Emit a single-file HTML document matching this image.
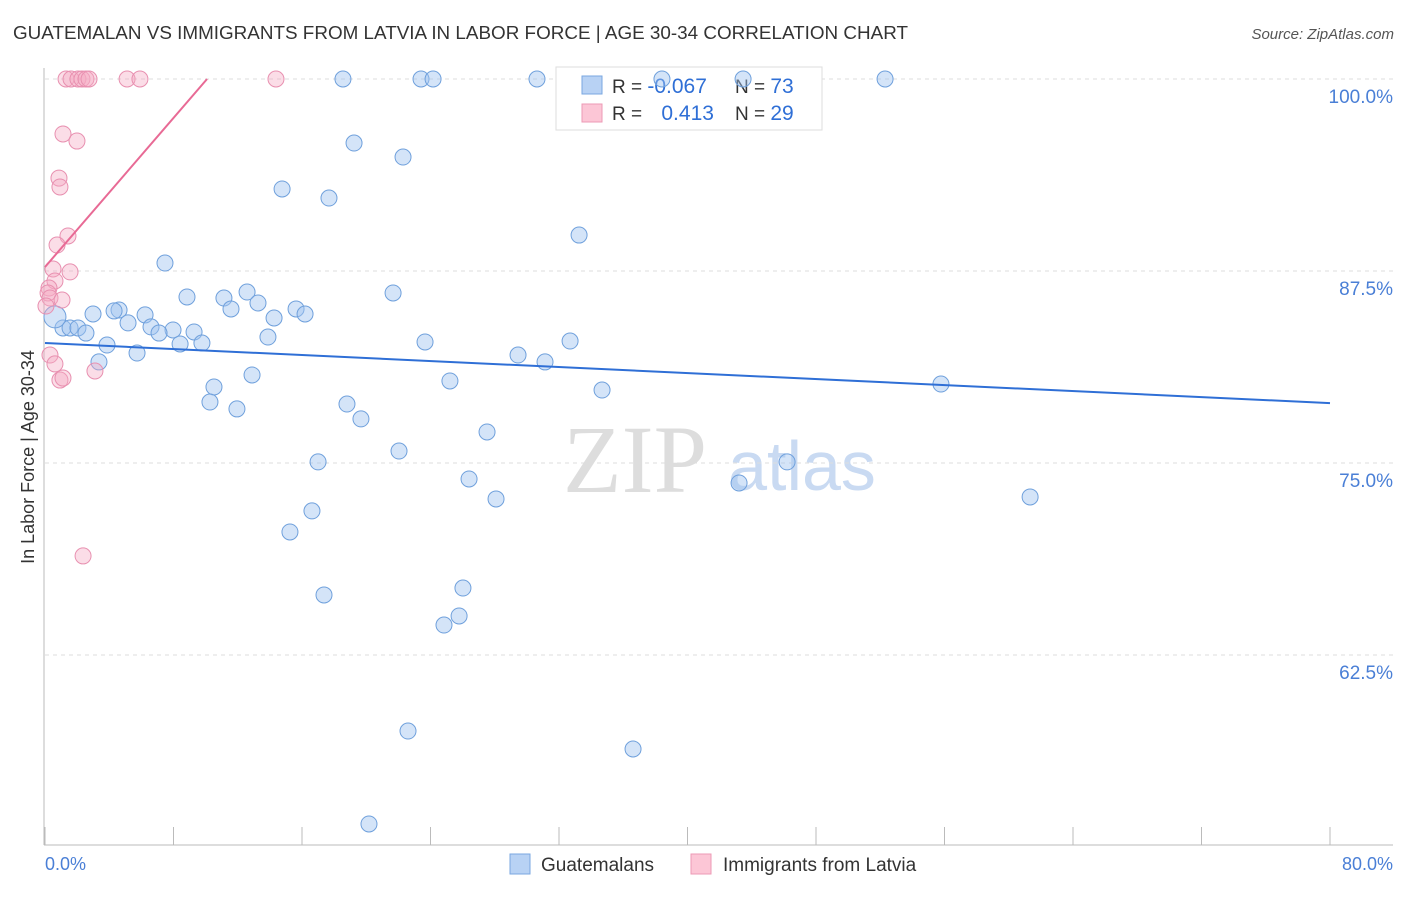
<!DOCTYPE html>
<html><head><meta charset="utf-8"><style>
body{margin:0;background:#fff;font-family:"Liberation Sans",sans-serif}
</style></head><body>
<svg id="c" width="1406" height="892" xmlns="http://www.w3.org/2000/svg">
<text x="13" y="39" font-size="18" fill="#333" textLength="895" lengthAdjust="spacingAndGlyphs">GUATEMALAN VS IMMIGRANTS FROM LATVIA IN LABOR FORCE | AGE 30-34 CORRELATION CHART</text>
<text x="1394" y="39" font-size="15" fill="#555" text-anchor="end" font-style="italic">Source: ZipAtlas.com</text>
<text x="635" y="492" font-size="96" fill="#ddd" font-family="Liberation Serif,serif" text-anchor="middle">ZIP</text>
<text x="802" y="490" font-size="70" fill="#c9daf2" text-anchor="middle">atlas</text>
<g id="grid"></g><g id="axes"></g>
<g>
<rect x="556" y="67" width="266" height="63" fill="#fff" stroke="#ddd"/>
<rect x="582" y="76" width="20" height="18" fill="#b8d2f4" stroke="#7aa7e0"/>
<rect x="582" y="104" width="20" height="18" fill="#fcc6d6" stroke="#ec9ab5"/>
<text x="612" y="93" font-size="19" fill="#333">R = <tspan fill="#2f6fd6" font-size="21">-0.067</tspan></text>
<text x="735" y="93" font-size="19" fill="#333">N = <tspan fill="#2f6fd6" font-size="21">73</tspan></text>
<text x="612" y="120" font-size="19" fill="#333">R = <tspan fill="#2f6fd6" dx="14" font-size="21">0.413</tspan></text>
<text x="735" y="120" font-size="19" fill="#333">N = <tspan fill="#2f6fd6" font-size="21">29</tspan></text>
</g>
<g id="pts"></g><g id="trend"></g>
<text transform="translate(34,457) rotate(-90)" font-size="18" fill="#333" text-anchor="middle">In Labor Force | Age 30-34</text>
<text x="45" y="870" font-size="18" fill="#4a7fd6">0.0%</text>
<text x="1393" y="870" font-size="18" fill="#4a7fd6" text-anchor="end">80.0%</text>
<g>
<rect x="510" y="854" width="20" height="20" fill="#b8d2f4" stroke="#7aa7e0"/>
<text x="541" y="871" font-size="19" fill="#333">Guatemalans</text>
<rect x="691" y="854" width="20" height="20" fill="#fcc6d6" stroke="#ec9ab5"/>
<text x="723" y="871" font-size="19" fill="#333">Immigrants from Latvia</text>
</g>
</svg>
<script>
const yTicks=[100,87.5,75,62.5];
const yTickLabels=["100.0%","87.5%","75.0%","62.5%"];
const xTicks=[0,8,16,24,32,40,48,56,64,72,80];
const blueX=[18.55,23.41,24.16,30.63,38.41,43.46,52.3,19.24,22.29,14.76,17.68,33.25,7.47,21.67,8.84,11.14,12.58,13.26,11.58,15.63,16.19,14.26,4.61,4.30,6.23,2.99,5.17,6.60,7.97,7.10,9.28,1.12,1.56,2.05,2.55,0.62,8.41,9.77,13.88,23.66,3.86,5.73,3.36,32.69,29.45,31.13,12.89,25.21,10.52,34.68,55.78,10.27,11.95,18.80,19.67,27.52,22.04,17.0,46.2,26.4,43.21,28.08,61.33,16.62,15.25,26.02,17.37,25.78,24.84,22.60,36.61,20.17];
const blueY=[100,100,100,100,100,100,100,95.83,94.92,92.84,92.25,89.84,88.02,86.07,85.81,85.74,86.13,85.42,85.03,85.03,84.70,84.44,84.96,84.90,84.64,84.70,84.12,83.86,83.66,83.46,83.53,83.79,83.79,83.79,83.46,84.51,82.75,82.81,83.20,82.88,82.68,82.16,81.58,82.94,82.03,81.58,80.73,80.34,79.95,79.75,80.14,78.97,78.52,78.84,77.87,77.02,75.78,75.07,75.07,73.96,73.70,72.66,72.79,71.88,70.51,66.86,66.41,65.04,64.45,57.55,56.38,51.5];
const pinkX=[1.31,1.62,2.05,2.30,2.55,2.74,5.11,5.91,14.38,1.12,1.99,0.87,0.93,1.43,0.75,0.50,1.56,0.62,0.25,0.19,0.31,1.06,0.06,0.31,0.62,0.93,1.12,3.11,2.37];
const pinkY=[100,100,100,100,100,100,100,100,100,96.42,95.96,93.55,92.97,89.78,89.19,87.63,87.44,86.85,86.39,86.07,85.74,85.61,85.22,82.03,81.45,80.40,80.53,80.99,68.95];
const blueTrend=[[0,82.81],[80,78.9]];
const pinkTrend=[[0,87.76],[10.09,100]];
const NS="http://www.w3.org/2000/svg";
const X=v=>45+v/80*1285, Y=v=>79+(100-v)*15.36;
function mk(t,a,p){const e=document.createElementNS(NS,t);for(const k in a)e.setAttribute(k,a[k]);document.getElementById(p).appendChild(e);return e;}
yTicks.forEach((t,i)=>{
 const l=mk('line',{x1:45,x2:1393,y1:Y(t),y2:Y(t),stroke:'#ddd','stroke-dasharray':'4,4'},'grid');
 
 
 const tx=mk('text',{x:1393,y:Y(t)+24,'font-size':19,fill:'#4a7fd6','text-anchor':'end'},'grid');
 tx.textContent=yTickLabels[i];
 
 
});
const ax=mk('line',{x1:44,x2:44,y1:68,y2:845,stroke:'#bbb'},'axes');


const bx=mk('line',{x1:44,x2:1393,y1:845,y2:845,stroke:'#bbb'},'axes');


xTicks.forEach(t=>{
 const l=mk('line',{x1:X(t),x2:X(t),y1:827,y2:845,stroke:'#bbb'},'axes');
 
 
});
blueX.forEach((v,i)=>{
 const c=mk('circle',{cx:X(v),cy:Y(blueY[i]),r:i==35?11:8,fill:'rgba(160,196,240,0.45)',stroke:'#6fa0dc','stroke-width':1},'pts');
 
 
});
pinkX.forEach((v,i)=>{
 const c=mk('circle',{cx:X(v),cy:Y(pinkY[i]),r:8,fill:'rgba(245,170,195,0.4)',stroke:'#e890b0','stroke-width':1},'pts');
 
 
});
const bt=mk('line',{x1:X(blueTrend[0][0]),y1:Y(blueTrend[0][1]),x2:X(blueTrend[1][0]),y2:Y(blueTrend[1][1]),stroke:'#2f6fd6','stroke-width':2},'trend');


const pt=mk('line',{x1:X(pinkTrend[0][0]),y1:Y(pinkTrend[0][1]),x2:X(pinkTrend[1][0]),y2:Y(pinkTrend[1][1]),stroke:'#e86a95','stroke-width':2},'trend');


</script>
</body></html>
